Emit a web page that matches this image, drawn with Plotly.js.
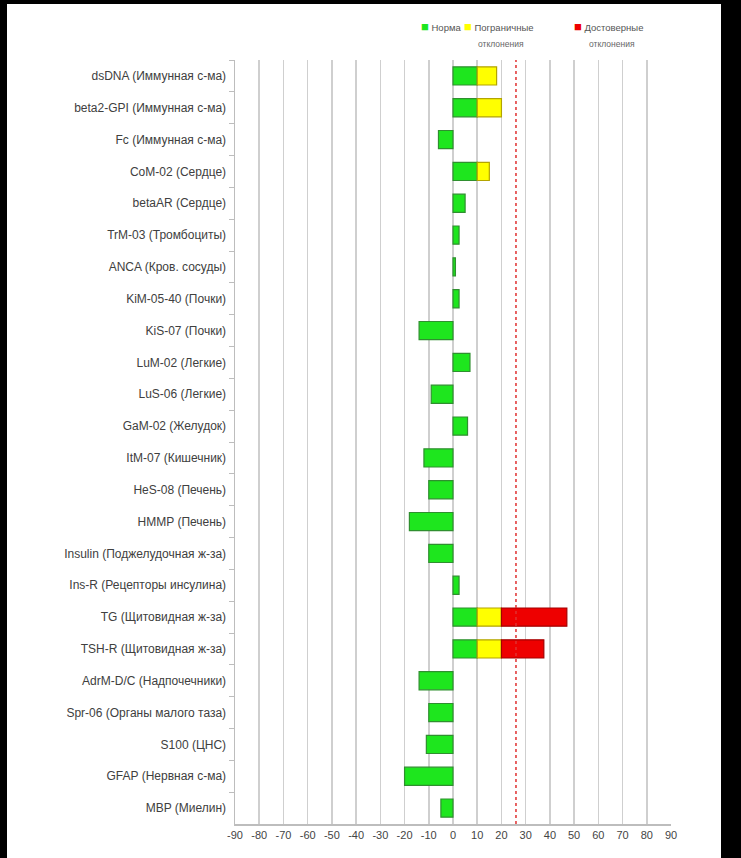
<!DOCTYPE html>
<html><head><meta charset="utf-8">
<script src="https://cdn.plot.ly/plotly-3.0.1.min.js"></script>
<style>
html,body{margin:0;padding:0;background:#000;width:741px;height:858px;overflow:hidden}
#panel{position:absolute;left:7px;top:4px;width:714px;height:854px;background:#fff}
#chart{width:714px;height:854px}
</style></head><body>
<div id="panel"><div id="chart"></div></div>
<script>
const categories = [
  "dsDNA (Иммунная с-ма)",
  "beta2-GPI (Иммунная с-ма)",
  "Fc (Иммунная с-ма)",
  "CoM-02 (Сердце)",
  "betaAR (Сердце)",
  "TrM-03 (Тромбоциты)",
  "ANCA (Кров. сосуды)",
  "KiM-05-40 (Почки)",
  "KiS-07 (Почки)",
  "LuM-02 (Легкие)",
  "LuS-06 (Легкие)",
  "GaM-02 (Желудок)",
  "ItM-07 (Кишечник)",
  "HeS-08 (Печень)",
  "HMMP (Печень)",
  "Insulin (Поджелудочная ж-за)",
  "Ins-R (Рецепторы инсулина)",
  "TG (Щитовидная ж-за)",
  "TSH-R (Щитовидная ж-за)",
  "AdrM-D/C (Надпочечники)",
  "Spr-06 (Органы малого таза)",
  "S100 (ЦНС)",
  "GFAP (Нервная с-ма)",
  "MBP (Миелин)"
];
const normValues        = [10, 10, -6, 10, 5, 2.5, 1, 2.5, -14, 7, -9, 6, -12, -10, -18, -10, 2.5, 10, 10, -14, -10, -11, -20, -5];
const borderlineValues  = [8, 10, null, 5, null, null, null, null, null, null, null, null, null, null, null, null, null, 10, 10, null, null, null, null, null];
const significantValues = [null, null, null, null, null, null, null, null, null, null, null, null, null, null, null, null, null, 27, 17.5, null, null, null, null, null];
const thresholdValue = 26;
const xTickValues = [-90, -80, -70, -60, -50, -40, -30, -20, -10, 0, 10, 20, 30, 40, 50, 60, 70, 80, 90];
const seriesNames = ["Норма", "Пограничные<br>отклонения", "Достоверные<br>отклонения"];
const seriesColors = ['#1ee61e', '#ffff00', '#ee0000'];
const seriesLines = ['#2f8f2f', '#b3a400', '#a40000'];

const font = "'Liberation Sans', Arial, sans-serif";
function bar(vals, i) {
  return {
    type: 'bar', orientation: 'h', y: categories, x: vals, name: seriesNames[i],
    width: 0.57, showlegend: false,
    marker: {color: seriesColors[i], line: {color: seriesLines[i], width: 1.2}},
    hoverinfo: 'skip'
  };
}
const traces = [bar(normValues, 0), bar(borderlineValues, 1), bar(significantValues, 2)];

// legend drawn as text annotations (square glyph + series name, second line below)
const legendX = [0.421, 0.521, 0.773];
const legendX2 = [null, 0.609, 0.864];
const legendAnn = [];
seriesNames.forEach((n, i) => {
  const parts = n.split('<br>');
  legendAnn.push({
    xref: 'paper', yref: 'paper', x: legendX[i], y: 1.0445, xanchor: 'left', yanchor: 'middle',
    showarrow: false,
    text: "<span style='color:" + seriesColors[i] + ";font-size:13px'>■</span> " + parts[0],
    font: {family: font, size: 9.5, color: '#555'}
  });
  if (parts[1]) legendAnn.push({
    xref: 'paper', yref: 'paper', x: legendX2[i], y: 1.021, xanchor: 'center', yanchor: 'middle',
    showarrow: false, text: parts[1],
    font: {family: font, size: 8.5, color: '#666'}
  });
});

const layout = {
  width: 714, height: 854,
  margin: {l: 228, r: 50, t: 56, b: 34},
  paper_bgcolor: '#fff', plot_bgcolor: '#fff',
  barmode: 'relative',
  font: {family: font, size: 12, color: '#404040'},
  showlegend: false,
  annotations: legendAnn,
  xaxis: {
    range: [-90, 90], tickvals: xTickValues, ticktext: xTickValues.map(String),
    showgrid: true, gridcolor: '#cfcfcf', gridwidth: 1.5,
    zeroline: false, showline: true, linecolor: '#bdbdbd', linewidth: 1.5,
    ticks: '', tickfont: {family: font, size: 11, color: '#444'}, fixedrange: true
  },
  yaxis: {
    type: 'category', autorange: 'reversed', showgrid: false, zeroline: false,
    showline: true, linecolor: '#bdbdbd', linewidth: 1.5,
    ticks: 'outside', tickson: 'boundaries', ticklen: 5, tickcolor: '#bdbdbd',
    ticklabelstandoff: 5,
    tickfont: {family: font, size: 12, color: '#404040'}, fixedrange: true
  },
  shapes: [{
    type: 'line', xref: 'x', yref: 'paper', x0: thresholdValue, x1: thresholdValue, y0: 0, y1: 1,
    line: {color: '#e03030', width: 1.5, dash: 'dot'}
  }]
};
Plotly.newPlot('chart', traces, layout, {staticPlot: true, displayModeBar: false});
</script>
</body></html>
